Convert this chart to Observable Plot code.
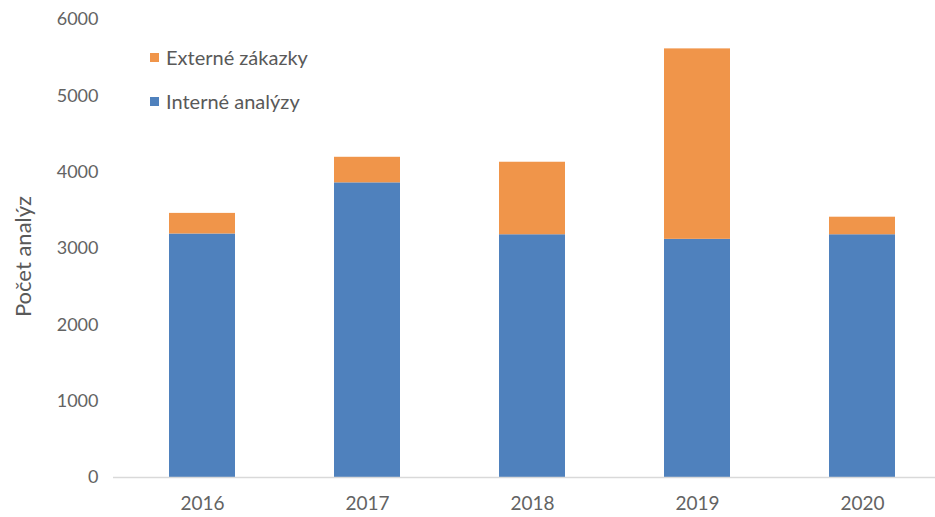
<!DOCTYPE html>
<html>
<head>
<meta charset="utf-8">
<script src="https://cdn.jsdelivr.net/npm/d3@7"></script>
<script src="https://cdn.jsdelivr.net/npm/@observablehq/plot@0.6"></script>
<style>
  html, body { margin: 0; padding: 0; background: #fff; }
  #wrap { position: relative; width: 935px; height: 517px; font-family: Lato, "Open Sans", sans-serif; }
  .legend { position: absolute; left: 150px; color: #595959; font-size: 20px; display: flex; align-items: center; line-height: 24px; }
  .legend span.sw { display: inline-block; width: 9px; height: 9px; margin-right: 7px; }
</style>
</head>
<body>
<div id="wrap"></div>
<script>
const years = ["2016", "2017", "2018", "2019", "2020"];
const interne = [3190, 3860, 3180, 3120, 3180];
const externe = [270, 335, 950, 2495, 230];
const seriesNames = ["Interné analýzy", "Externé zákazky"];
const seriesColors = ["#4f81bd", "#f0954a"];
const yTicks = [0, 1000, 2000, 3000, 4000, 5000, 6000];

const data = [];
years.forEach((y, i) => {
  data.push({year: y, series: seriesNames[0], value: interne[i]});
  data.push({year: y, series: seriesNames[1], value: externe[i]});
});

const plot = Plot.plot({
  width: 935,
  height: 517,
  marginLeft: 113,
  marginRight: 0,
  marginTop: 19,
  marginBottom: 40,
  style: {fontFamily: "Lato, 'Open Sans', sans-serif", fontSize: "16px", color: "#636363", background: "#fff"},
  x: {domain: years, range: [118, 946], paddingInner: 0.6, paddingOuter: 0.3, label: null},
  y: {domain: [0, 6000], ticks: yTicks, label: null},
  color: {domain: seriesNames, range: seriesColors},
  marks: [
    Plot.barY(data, {x: "year", y: "value", fill: "series", order: seriesNames}),
    Plot.ruleY([0], {stroke: "#d9d9d9", strokeWidth: 1.3}),
    Plot.axisX({tickSize: 0, tickPadding: 19, fontSize: 19, fill: "#636363"}),
    Plot.axisY({ticks: yTicks, tickSize: 0, tickPadding: 15, fontSize: 18, fill: "#636363", tickFormat: d => String(d)}),
    Plot.text(["Počet analýz"], {frameAnchor: "left", textAnchor: "middle", rotate: -90, dx: -90, dy: 8, fontSize: 22, fill: "#595959"})
  ]
});

const wrap = document.getElementById("wrap");
wrap.appendChild(plot);

[[seriesNames[1], seriesColors[1], 45], [seriesNames[0], seriesColors[0], 89]].forEach(([name, col, top]) => {
  const d = document.createElement("div");
  d.className = "legend";
  d.style.top = top + "px";
  d.innerHTML = `<span class="sw" style="background:${col}"></span>${name}`;
  wrap.appendChild(d);
});
</script>
</body>
</html>
